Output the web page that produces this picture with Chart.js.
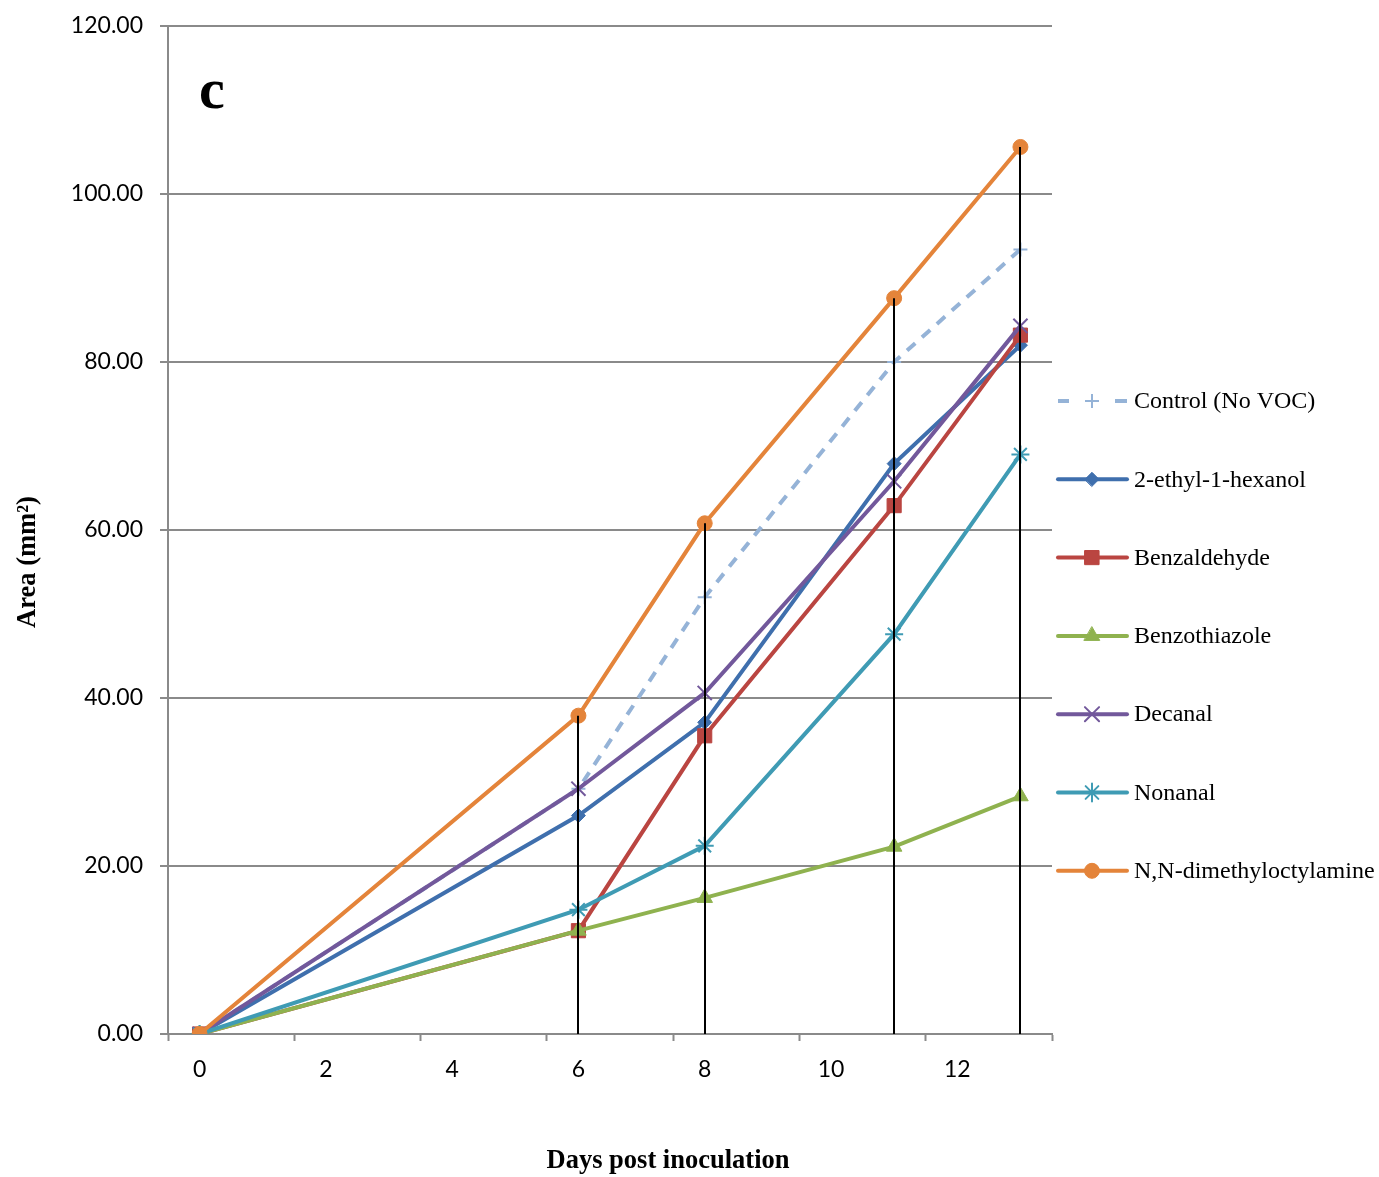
<!DOCTYPE html>
<html><head><meta charset="utf-8">
<script src="https://cdn.jsdelivr.net/npm/chart.js@4"></script>
<style>html,body{margin:0;padding:0;background:#fff}canvas{display:block}</style>
</head><body>
<canvas id="c" width="1379" height="1177"></canvas>
<script>
const days = [0, 6, 8, 11, 13];
const seriesNames = ['Control (No VOC)', '2-ethyl-1-hexanol', 'Benzaldehyde', 'Benzothiazole', 'Decanal', 'Nonanal', 'N,N-dimethyloctylamine'];
const controlValues = [0, 29.2, 52.0, 80.0, 93.4];
const ethylHexanolValues = [0, 26.0, 37.1, 67.9, 82.0];
const benzaldehydeValues = [0, 12.3, 35.5, 62.9, 83.2];
const benzothiazoleValues = [0, 12.3, 16.2, 22.3, 28.3];
const decanalValues = [0, 29.2, 40.6, 65.8, 84.3];
const nonanalValues = [0, 14.8, 22.4, 47.6, 69.0];
const dimethyloctylamineValues = [0, 37.9, 60.8, 87.6, 105.6];
const xTickLabels = [0, 2, 4, 6, 8, 10, 12];
const xTickMarks = [-0.5, 1.5, 3.5, 5.5, 7.5, 9.5, 11.5, 13.5];
const panelLabel = 'c';
const xTitle = 'Days post inoculation';
const yTitle = 'Area (mm²)';

const seriesValues = [controlValues, ethylHexanolValues, benzaldehydeValues, benzothiazoleValues, decanalValues, nonanalValues, dimethyloctylamineValues];
const styles = [
  {color: '#95B3D7', point: 'cross', radius: 7, dash: [11, 9], pbw: 2},
  {color: '#3F6FAD', point: 'rectRot', radius: 7, dash: [], pbw: 1},
  {color: '#BA4541', point: 'rect', radius: 10, dash: [], pbw: 1},
  {color: '#8FB24F', point: 'triangle', radius: 9, dash: [], pbw: 1},
  {color: '#72589B', point: 'crossRot', radius: 10, dash: [], pbw: 2},
  {color: '#3F9BB4', point: 'star', radius: 9, dash: [], pbw: 2},
  {color: '#E4843A', point: 'circle', radius: 7.5, dash: [], pbw: 1}
];

const datasets = seriesNames.map((name, i) => ({
  label: name,
  data: days.map((d, j) => ({x: d, y: seriesValues[i][j]})),
  borderColor: styles[i].color,
  backgroundColor: styles[i].color,
  borderWidth: 4,
  borderDash: styles[i].dash,
  pointStyle: styles[i].point,
  pointRadius: styles[i].radius,
  pointBorderWidth: styles[i].pbw,
  pointBackgroundColor: styles[i].color,
  pointBorderColor: styles[i].color,
  tension: 0,
  order: -i
}));

const gridGray = '#8a8a8a';

const extras = {
  id: 'extras',
  afterDatasetsDraw(chart) {
    const ctx = chart.ctx, xs = chart.scales.x, ys = chart.scales.y;
    ctx.save();
    ctx.strokeStyle = '#000';
    ctx.lineWidth = 2;
    days.forEach((d, j) => {
      if (j === 0) return;
      let mx = -Infinity;
      seriesValues.forEach(v => { if (v[j] > mx) mx = v[j]; });
      const px = Math.round(xs.getPixelForValue(d));
      ctx.beginPath();
      ctx.moveTo(px, ys.getPixelForValue(mx));
      ctx.lineTo(px, ys.getPixelForValue(0));
      ctx.stroke();
    });
    ctx.restore();
  },
  afterDraw(chart) {
    const ctx = chart.ctx;
    ctx.save();
    ctx.fillStyle = '#000';
    ctx.font = 'bold 58px "Liberation Serif", "Times New Roman", serif';
    ctx.textAlign = 'left';
    ctx.textBaseline = 'alphabetic';
    ctx.fillText(panelLabel, 199, 108);
    ctx.font = 'bold 26.5px "Liberation Serif", "Times New Roman", serif';
    ctx.textAlign = 'center';
    ctx.textBaseline = 'middle';
    ctx.fillText(xTitle, 668, 1161);
    ctx.save();
    ctx.translate(28, 562);
    ctx.rotate(-Math.PI / 2);
    ctx.fillText(yTitle, 0, 0);
    ctx.restore();
    const ly0 = 401, lstep = 78.3;
    chart.data.datasets.forEach((ds, i) => {
      const y = ly0 + i * lstep;
      ctx.save();
      ctx.strokeStyle = ds.borderColor;
      ctx.lineWidth = 4;
      if (i === 0) {
        ctx.lineCap = 'butt';
        ctx.beginPath(); ctx.moveTo(1058, y); ctx.lineTo(1069, y); ctx.stroke();
        ctx.beginPath(); ctx.moveTo(1115, y); ctx.lineTo(1127, y); ctx.stroke();
      } else {
        ctx.lineCap = 'round';
        ctx.beginPath(); ctx.moveTo(1058, y); ctx.lineTo(1127, y); ctx.stroke();
      }
      ctx.fillStyle = ds.pointBackgroundColor;
      ctx.strokeStyle = ds.pointBorderColor;
      ctx.lineWidth = ds.pointBorderWidth;
      Chart.helpers.drawPoint(ctx, {pointStyle: ds.pointStyle, radius: ds.pointRadius, rotation: 0, borderWidth: ds.pointBorderWidth}, 1092, y);
      ctx.restore();
      ctx.fillStyle = '#000';
      ctx.font = '24px "Liberation Serif", "Times New Roman", serif';
      ctx.textAlign = 'left';
      ctx.textBaseline = 'middle';
      ctx.fillText(ds.label, 1134, y + 1);
    });
    ctx.restore();
  }
};

new Chart(document.getElementById('c'), {
  type: 'line',
  data: {datasets},
  options: {
    responsive: false,
    devicePixelRatio: 1,
    animation: false,
    layout: {padding: {left: 0, top: 26, right: 327, bottom: 0}},
    plugins: {legend: {display: false}, tooltip: {enabled: false}},
    scales: {
      x: {
        type: 'linear',
        min: -0.5, max: 13.5,
        afterBuildTicks(scale) {
          const all = xTickLabels.concat(xTickMarks).sort((a, b) => a - b);
          scale.ticks = all.map(v => ({value: v}));
        },
        afterFit(scale) { scale.height = 143; },
        grid: {
          drawOnChartArea: false,
          drawTicks: true,
          tickLength: 7,
          tickWidth: 2,
          tickColor: (c) => (c.tick && xTickMarks.includes(c.tick.value)) ? gridGray : 'rgba(0,0,0,0)'
        },
        border: {display: true, color: gridGray, width: 2},
        ticks: {
          autoSkip: false, maxRotation: 0, minRotation: 0,
          padding: 15,
          color: '#000',
          font: {family: 'Lato, "Open Sans", sans-serif', size: 23},
          callback: (v) => xTickLabels.includes(v) ? String(v) : ''
        }
      },
      y: {
        min: 0, max: 120,
        afterFit(scale) { scale.width = 168; },
        grid: {color: gridGray, lineWidth: 2, tickLength: 8, drawTicks: true},
        border: {display: true, color: gridGray, width: 2},
        ticks: {
          stepSize: 20,
          padding: 17,
          color: '#000',
          font: {family: 'Lato, "Open Sans", sans-serif', size: 23, lineHeight: 0.6},
          callback: (v) => v.toFixed(2)
        }
      }
    }
  },
  plugins: [extras]
});
</script>
</body></html>
